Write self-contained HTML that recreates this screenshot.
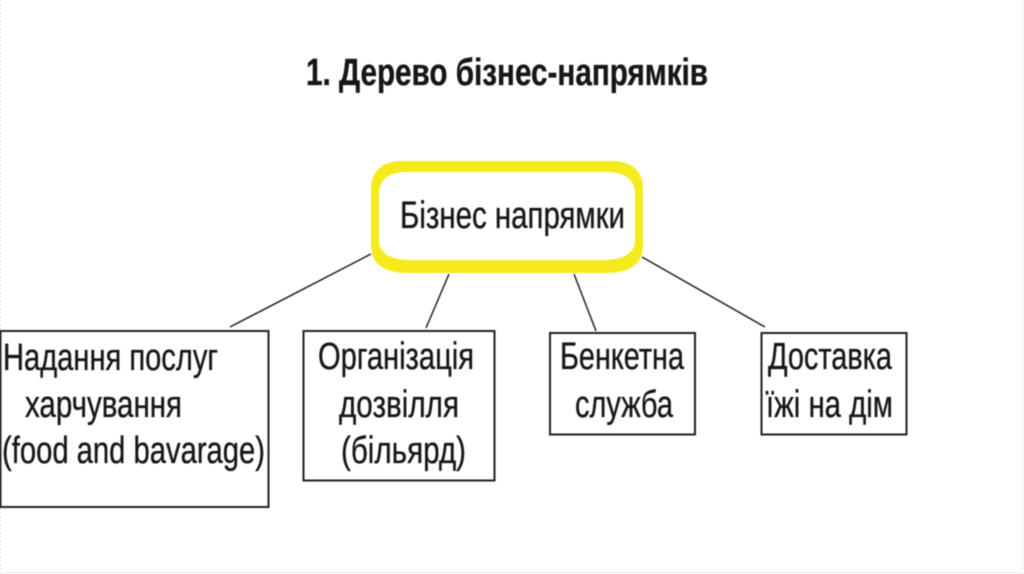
<!DOCTYPE html>
<html>
<head>
<meta charset="utf-8">
<style>
html,body{margin:0;padding:0;background:#fff;}
body{width:1024px;height:574px;overflow:hidden;}
svg{display:block;}
text{font-family:"Liberation Sans",sans-serif;fill:#161616;stroke:#161616;stroke-width:.35px;}
</style>
</head>
<body>
<svg width="1024" height="574" viewBox="0 0 1024 574" xmlns="http://www.w3.org/2000/svg">
<defs><filter id="b" x="-5%" y="-5%" width="110%" height="110%"><feGaussianBlur stdDeviation="0.45"/></filter></defs>
<rect width="1024" height="574" fill="#fff"/>
<line x1="0.5" y1="0" x2="0.5" y2="574" stroke="#e8e8e8" stroke-width="1" stroke-dasharray="2 2"/>
<line x1="1022.5" y1="0" x2="1022.5" y2="574" stroke="#e4e4e4" stroke-width="1" stroke-dasharray="2 2"/>
<line x1="0" y1="572.5" x2="1024" y2="572.5" stroke="#f0f0f0" stroke-width="1"/>

<g filter="url(#b)">
<text x="306" y="85" font-size="38" font-weight="bold" textLength="402" lengthAdjust="spacingAndGlyphs">1. Дерево бізнес-напрямків</text>

<path fill-rule="evenodd" fill="#f5ea1c" d="M403 161H611Q643 161 643 190V245Q643 273 606 273H408Q371 273 371 245V190Q371 161 403 161ZM408 172Q379 172 379 194V240Q379 260 412 260H602Q635 260 635 240V194Q635 172 606 172Z"/>
<text x="400" y="228" font-size="38" textLength="225" lengthAdjust="spacingAndGlyphs">Бізнес напрямки</text>

<g stroke="#222" stroke-width="1.500" fill="none">
<line x1="371" y1="254" x2="230" y2="327"/>
<line x1="449" y1="274" x2="426" y2="328"/>
<line x1="574" y1="274" x2="596" y2="331"/>
<line x1="642" y1="257" x2="765" y2="327"/>
</g>

<g fill="none" stroke="#222" stroke-width="2">
<rect x="0.500" y="331" width="268" height="176"/>
<rect x="303.500" y="331" width="191" height="149.500"/>
<rect x="550" y="333" width="145" height="101.500"/>
<rect x="761.500" y="333" width="145" height="101.500"/>
</g>

<g font-size="38">
<text x="3" y="370" textLength="215" lengthAdjust="spacingAndGlyphs">Надання послуг</text>
<text x="25" y="417" textLength="157" lengthAdjust="spacingAndGlyphs">харчування</text>
<text x="2" y="463" textLength="263" lengthAdjust="spacingAndGlyphs">(food and bavarage)</text>

<text x="318" y="369" textLength="156" lengthAdjust="spacingAndGlyphs">Організація</text>
<text x="339" y="417" textLength="120" lengthAdjust="spacingAndGlyphs">дозвілля</text>
<text x="341" y="463" textLength="125" lengthAdjust="spacingAndGlyphs">(більярд)</text>

<text x="560" y="369" textLength="124" lengthAdjust="spacingAndGlyphs">Бенкетна</text>
<text x="575" y="417" textLength="98" lengthAdjust="spacingAndGlyphs">служба</text>

<text x="768" y="369" textLength="124" lengthAdjust="spacingAndGlyphs">Доставка</text>
<text x="766" y="417" textLength="127" lengthAdjust="spacingAndGlyphs">їжі на дім</text>
</g>
</g>
</svg>
</body>
</html>
